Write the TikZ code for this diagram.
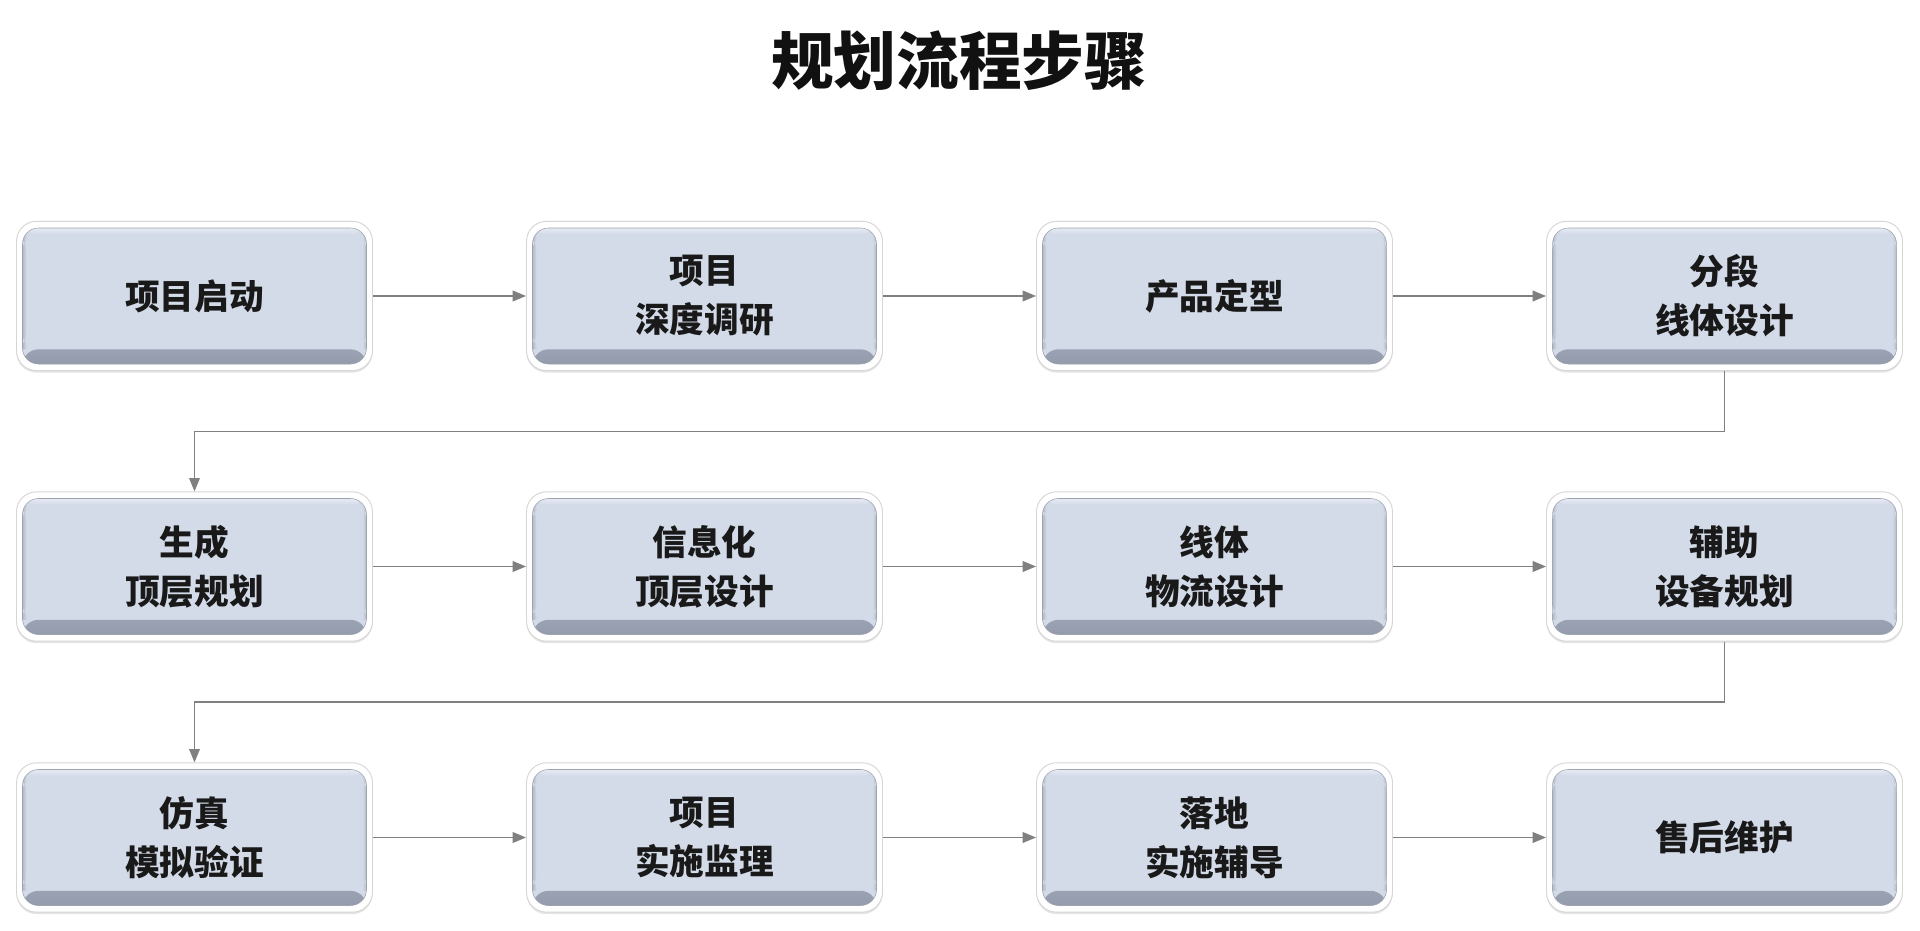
\documentclass[tikz,border=0pt]{standalone}
\usepackage{fontspec}
\setmainfont{Noto Sans CJK SC}
\newfontfamily\cjk{Noto Sans CJK SC}
\usetikzlibrary{arrows.meta,calc,shadows}
\definecolor{boxfill}{HTML}{D3DAE8}
\definecolor{boxtop}{HTML}{E6EAF3}
\definecolor{boxbot}{HTML}{939BAD}
\definecolor{conngray}{HTML}{808080}
\definecolor{titlecol}{HTML}{111111}
\tikzset{
  outerbox/.style={rectangle, rounded corners=15pt, minimum width=267pt, minimum height=112pt,
    fill=white, draw=black!16, line width=0.7pt,
    drop shadow={opacity=0.2, shadow xshift=0pt, shadow yshift=-1.5pt}},
  innerbox/.style={rectangle, rounded corners=12pt, minimum width=258pt, minimum height=102pt,
    fill=boxfill, draw=boxfill!75!black, line width=0.4pt, align=center,
    font=\cjk\bfseries\fontsize{26pt}{36.75pt}\selectfont, text=black!90,
    path picture={
      \shade[top color=boxfill, bottom color=boxbot]
        ([yshift=11pt]path picture bounding box.south west) rectangle (path picture bounding box.south east);
      \shade[top color=boxtop, bottom color=boxfill]
        (path picture bounding box.north west) rectangle ([yshift=-5pt]path picture bounding box.north east);
      \shade[left color=boxfill!85!black, right color=boxfill]
        ([yshift=11pt]path picture bounding box.south west) rectangle ([xshift=3pt,yshift=-5pt]path picture bounding box.north west);
      \shade[left color=boxfill, right color=boxfill!85!black]
        ([xshift=-3pt,yshift=11pt]path picture bounding box.south east) rectangle ([yshift=-5pt]path picture bounding box.north east);
    }},
  conn/.style={draw=conngray, line width=1.1pt, -{Triangle[length=10pt,width=8pt,fill=conngray]}}
}
\begin{document}
\begin{tikzpicture}[x=0.75pt,y=-0.75pt]
\useasboundingbox (0,0) rectangle (1920,931);
\fill[white] (0,0) rectangle (1920,931);
\node[font=\cjk\bfseries\fontsize{47pt}{50pt}\selectfont, text=titlecol] (title) at (959,61) {规划流程步骤};

% row 1
\node[outerbox] (n1) at (194.5,296) {};
\node[outerbox] (n2) at (704.5,296) {};
\node[outerbox] (n3) at (1214.5,296) {};
\node[outerbox] (n4) at (1724.5,296) {};
% row 2
\node[outerbox] (n5) at (194.5,566.5) {};
\node[outerbox] (n6) at (704.5,566.5) {};
\node[outerbox] (n7) at (1214.5,566.5) {};
\node[outerbox] (n8) at (1724.5,566.5) {};
% row 3
\node[outerbox] (n9) at (194.5,837.5) {};
\node[outerbox] (n10) at (704.5,837.5) {};
\node[outerbox] (n11) at (1214.5,837.5) {};
\node[outerbox] (n12) at (1724.5,837.5) {};

\node[innerbox] (t1) at (n1.center) {项目启动};
\node[innerbox] (t2) at (n2.center) {项目\\深度调研};
\node[innerbox] (t3) at (n3.center) {产品定型};
\node[innerbox] (t4) at (n4.center) {分段\\线体设计};
\node[innerbox] (t5) at (n5.center) {生成\\顶层规划};
\node[innerbox] (t6) at (n6.center) {信息化\\顶层设计};
\node[innerbox] (t7) at (n7.center) {线体\\物流设计};
\node[innerbox] (t8) at (n8.center) {辅助\\设备规划};
\node[innerbox] (t9) at (n9.center) {仿真\\模拟验证};
\node[innerbox] (t10) at (n10.center) {项目\\实施监理};
\node[innerbox] (t11) at (n11.center) {落地\\实施辅导};
\node[innerbox] (t12) at (n12.center) {售后维护};

\draw[conn] (n1.east) -- (n2.west);
\draw[conn] (n2.east) -- (n3.west);
\draw[conn] (n3.east) -- (n4.west);
\draw[conn] (n4.south) -- ($(n4.south)!.5!(n8.north)$) -| (n5.north);
\draw[conn] (n5.east) -- (n6.west);
\draw[conn] (n6.east) -- (n7.west);
\draw[conn] (n7.east) -- (n8.west);
\draw[conn] (n8.south) -- ($(n8.south)!.5!(n12.north)$) -| (n9.north);
\draw[conn] (n9.east) -- (n10.west);
\draw[conn] (n10.east) -- (n11.west);
\draw[conn] (n11.east) -- (n12.west);
\end{tikzpicture}
\end{document}
